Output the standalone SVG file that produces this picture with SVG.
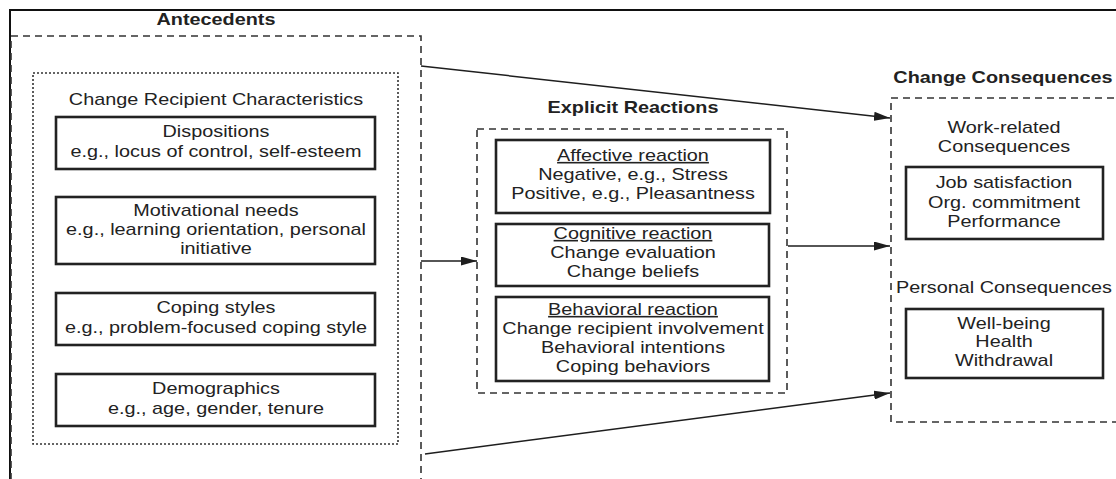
<svg xmlns="http://www.w3.org/2000/svg" width="1116" height="479" viewBox="0 0 1116 479">
  <defs>
    <marker id="arrow" markerUnits="userSpaceOnUse" markerWidth="16" markerHeight="9" refX="16" refY="4.5" orient="auto">
      <path d="M0,0 L16,4.5 L0,9 Z" fill="#1e1e1e"/>
    </marker>
    <style>
      text { font-family: "Liberation Sans", Arial, Helvetica, sans-serif; font-size: 16px; fill: #222; text-anchor: middle; }
      .title { font-weight: bold; }
      .u { text-decoration: underline; }
      .frame { fill: none; stroke: #111; stroke-width: 2; }
      .dashed { fill: none; stroke: #333; stroke-width: 1.6; stroke-dasharray: 7 5; }
      .dotted { fill: none; stroke: #333; stroke-width: 1.6; stroke-dasharray: 2 2; }
      .box { fill: #fff; stroke: #222; stroke-width: 2.6; }
      .conn { fill: none; stroke: #1e1e1e; stroke-width: 1.5; marker-end: url(#arrow); }
    </style>
  </defs>

  <rect width="1116" height="479" fill="#fff"/>

  <!-- outer page frame -->
  <path class="frame" d="M10,479 V10 H1116"/>

  <!-- Antecedents -->
  <g id="antecedents">
    <rect class="dashed" x="11" y="36" width="410" height="460"/>
    <g transform="translate(216 0) scale(1.24 1)">
      <text class="title" x="0" y="25">Antecedents</text>
    </g>
  </g>

  <g id="recipient-characteristics">
    <rect class="dotted" x="33" y="73" width="365" height="371"/>
    <g transform="translate(216 0) scale(1.24 1)">
      <text x="0" y="105">Change Recipient Characteristics</text>
    </g>
  </g>

  <g id="dispositions">
    <rect class="box" x="56" y="117" width="319" height="52"/>
    <g transform="translate(216 0) scale(1.24 1)">
      <text x="0" y="137">Dispositions</text>
      <text x="0" y="157">e.g., locus of control, self-esteem</text>
    </g>
  </g>

  <g id="motivational-needs">
    <rect class="box" x="56" y="197" width="319" height="67"/>
    <g transform="translate(216 0) scale(1.24 1)">
      <text x="0" y="216">Motivational needs</text>
      <text x="0" y="235">e.g., learning orientation, personal</text>
      <text x="0" y="254">initiative</text>
    </g>
  </g>

  <g id="coping-styles">
    <rect class="box" x="56" y="293" width="319" height="52"/>
    <g transform="translate(216 0) scale(1.24 1)">
      <text x="0" y="313">Coping styles</text>
      <text x="0" y="333">e.g., problem-focused coping style</text>
    </g>
  </g>

  <g id="demographics">
    <rect class="box" x="56" y="374" width="319" height="52"/>
    <g transform="translate(216 0) scale(1.24 1)">
      <text x="0" y="394">Demographics</text>
      <text x="0" y="414">e.g., age, gender, tenure</text>
    </g>
  </g>

  <!-- Explicit Reactions -->
  <g id="explicit-reactions">
    <rect class="dashed" x="477" y="129" width="310" height="264"/>
    <g transform="translate(633 0) scale(1.24 1)">
      <text class="title" x="0" y="113">Explicit Reactions</text>
    </g>
  </g>

  <g id="affective-reaction">
    <rect class="box" x="496" y="140" width="274" height="73"/>
    <g transform="translate(633 0) scale(1.24 1)">
      <text class="u" x="0" y="161">Affective reaction</text>
      <text x="0" y="180">Negative, e.g., Stress</text>
      <text x="0" y="199">Positive, e.g., Pleasantness</text>
    </g>
  </g>

  <g id="cognitive-reaction">
    <rect class="box" x="496" y="224" width="273" height="62"/>
    <g transform="translate(633 0) scale(1.24 1)">
      <text class="u" x="0" y="239">Cognitive reaction</text>
      <text x="0" y="258">Change evaluation</text>
      <text x="0" y="277">Change beliefs</text>
    </g>
  </g>

  <g id="behavioral-reaction">
    <rect class="box" x="496" y="297" width="273" height="84"/>
    <g transform="translate(633 0) scale(1.24 1)">
      <text class="u" x="0" y="315">Behavioral reaction</text>
      <text x="0" y="334">Change recipient involvement</text>
      <text x="0" y="353">Behavioral intentions</text>
      <text x="0" y="372">Coping behaviors</text>
    </g>
  </g>

  <!-- Change Consequences -->
  <g id="change-consequences">
    <rect class="dashed" x="891" y="98" width="240" height="324"/>
    <g transform="translate(1003 0) scale(1.24 1)">
      <text class="title" x="0" y="83">Change Consequences</text>
    </g>
  </g>

  <g id="work-related">
    <g transform="translate(1004 0) scale(1.24 1)">
      <text x="0" y="133">Work-related</text>
      <text x="0" y="152">Consequences</text>
    </g>
    <rect class="box" x="906" y="167" width="197" height="72"/>
    <g transform="translate(1004 0) scale(1.24 1)">
      <text x="0" y="188">Job satisfaction</text>
      <text x="0" y="208">Org. commitment</text>
      <text x="0" y="227">Performance</text>
    </g>
  </g>

  <g id="personal">
    <g transform="translate(1004 0) scale(1.24 1)">
      <text x="0" y="293">Personal Consequences</text>
    </g>
    <rect class="box" x="906" y="309" width="197" height="69"/>
    <g transform="translate(1004 0) scale(1.24 1)">
      <text x="0" y="329">Well-being</text>
      <text x="0" y="347">Health</text>
      <text x="0" y="366">Withdrawal</text>
    </g>
  </g>

  <!-- connectors -->
  <g id="connectors">
    <line class="conn" x1="421" y1="66" x2="890" y2="118"/>
    <line class="conn" x1="421" y1="261" x2="477" y2="261"/>
    <line class="conn" x1="788" y1="246" x2="890" y2="246"/>
    <line class="conn" x1="425" y1="454" x2="890" y2="393"/>
  </g>
</svg>
